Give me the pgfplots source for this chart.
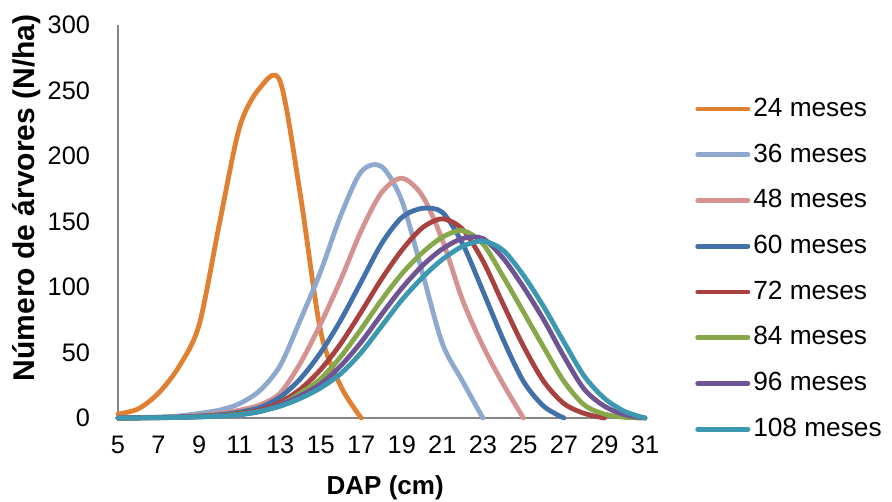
\documentclass[border=0pt]{standalone}
\usepackage{fontspec}
\setmainfont{Liberation Sans}
\usepackage{pgfplots}
\pgfplotsset{compat=1.18}
\definecolor{c24}{RGB}{224,128,50}
\definecolor{c36}{RGB}{142,168,206}
\definecolor{c48}{RGB}{212,146,144}
\definecolor{c60}{RGB}{66,112,168}
\definecolor{c72}{RGB}{168,66,64}
\definecolor{c84}{RGB}{134,168,74}
\definecolor{c96}{RGB}{110,84,146}
\definecolor{c108}{RGB}{60,152,176}
\definecolor{axgray}{RGB}{134,134,134}
\begin{document}
\begin{tikzpicture}
\begin{axis}[
  at={(0,0)}, anchor=south west, scale only axis,
  width=395.25pt, height=294.75pt,
  xmin=5, xmax=31, ymin=0, ymax=300,
  xtick={5,7,...,31}, ytick={0,50,...,300},
  axis x line=bottom, axis y line=left,
  axis line style={-, draw=axgray, line width=0.9pt},
  major tick length=0pt,
  clip=false,
  tick label style={font=\fontsize{19}{22}\selectfont},
  /pgf/number format/assume math mode=true,
  yticklabel style={xshift=-17.5pt},
  xticklabel style={yshift=-10pt},
  xlabel={DAP (cm)}, ylabel={Número de árvores (N/ha)},
  xlabel style={font=\fontsize{19.5}{22}\selectfont\bfseries, at={(axis description cs:0.507,-0.178)}, anchor=center},
  ylabel style={font=\fontsize{22.5}{26}\selectfont\bfseries, at={(axis description cs:-0.1727,0.56)}, anchor=center},
  every axis plot/.append style={line width=3.6pt, smooth, line cap=round, line join=round},
  legend style={at={(axis description cs:1.0873,0.379)}, anchor=west, draw=none, fill=none,
    font=\fontsize{19.7}{22}\selectfont, row sep=16.3pt, column sep=2.2pt,
    nodes={inner sep=0pt, text height=14.5pt, text depth=3.5pt}},
  legend cell align=left,
  legend image code/.code={\draw[#1] (1.8pt,0pt) -- (39.5pt,0pt);},
]
\addplot[c24] coordinates {(5,3) (6,7) (7,19) (8,39) (9,71) (10,148) (11,222) (12,252) (13,257) (14,170) (15,66) (16,24) (17,0)};
\addlegendentry{24 meses}
\addplot[c36] coordinates {(5,0) (6,0.3) (7,0.7) (8,1.5) (9,3.5) (10,6) (11,11) (12,21) (13,40) (14,75) (15,112) (16,155) (17,188) (18,192) (19,166) (20,112) (21,57) (22,28) (23,0)};
\addlegendentry{36 meses}
\addplot[c48] coordinates {(5,0) (6,0.2) (7,0.5) (8,1) (9,2) (10,3.5) (11,6) (12,10) (13,19) (14,42) (15,72) (16,106) (17,143) (18,172) (19,183) (20,170) (21,136) (22,90) (23,55) (24,26) (25,0)};
\addlegendentry{48 meses}
\addplot[c60] coordinates {(5,0) (6,0.2) (7,0.4) (8,0.8) (9,1.5) (10,2.5) (11,4.5) (12,8) (13,16) (14,30) (15,50) (16,75) (17,104) (18,133) (19,153) (20,160) (21,157) (22,133) (23,97) (24,60) (25,28) (26,9) (27,0)};
\addlegendentry{60 meses}
\addplot[c72] coordinates {(5,0) (6,0.1) (7,0.3) (8,0.6) (9,1.2) (10,2) (11,3.5) (12,6) (13,12) (14,22) (15,37) (16,57) (17,81) (18,106) (19,128) (20,145) (21,152) (22,144) (23,120) (24,87) (25,55) (26,28) (27,11) (28,3.5) (29,0)};
\addlegendentry{72 meses}
\addplot[c84] coordinates {(5,0) (6,0.1) (7,0.3) (8,0.5) (9,1) (10,1.8) (11,3) (12,5) (13,10) (14,19) (15,30) (16,47) (17,68) (18,90) (19,110) (20,126) (21,138) (22,143) (23,133) (24,108) (25,81) (26,54) (27,28) (28,10) (29,3) (30,0.5) (31,0)};
\addlegendentry{84 meses}
\addplot[c96] coordinates {(5,0) (6,0.1) (7,0.2) (8,0.5) (9,0.9) (10,1.6) (11,2.6) (12,5) (13,10) (14,17) (15,26) (16,40) (17,58) (18,79) (19,99) (20,116) (21,129) (22,137) (23,137) (24,122) (25,100) (26,75) (27,47) (28,22) (29,9) (30,2.5) (31,0)};
\addlegendentry{96 meses}
\addplot[c108] coordinates {(5,0) (6,0.1) (7,0.2) (8,0.4) (9,0.8) (10,1.4) (11,2.4) (12,5) (13,9) (14,15) (15,23) (16,34) (17,50) (18,70) (19,90) (20,107) (21,121) (22,131) (23,135) (24,128) (25,109) (26,85) (27,58) (28,32) (29,15) (30,5) (31,0)};
\addlegendentry{108 meses}
\end{axis}
\pgfresetboundingbox
\path[use as bounding box] (-88.5pt,-63pt) rectangle (580.5pt,313.5pt);
\end{tikzpicture}
\end{document}
